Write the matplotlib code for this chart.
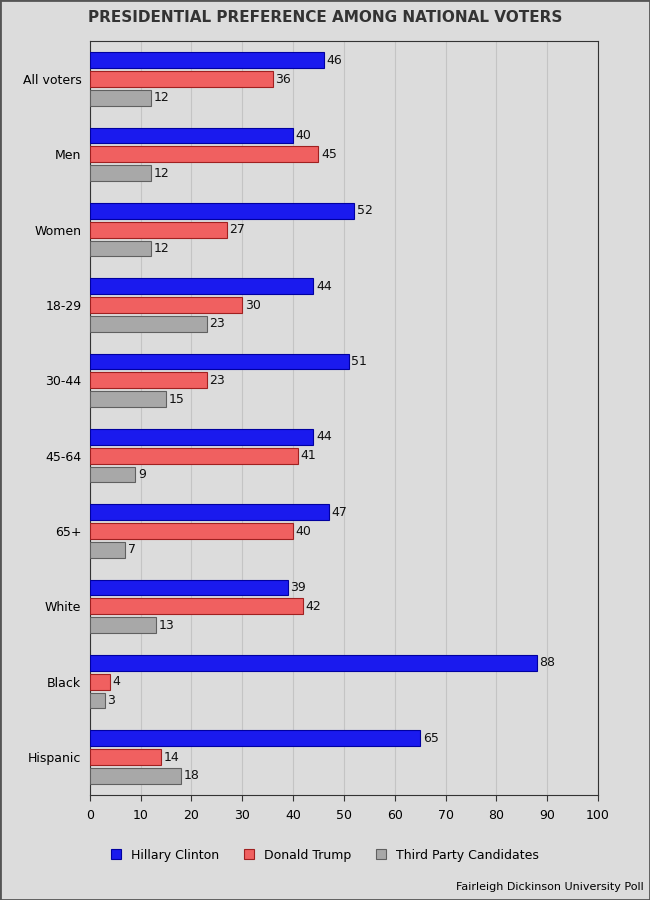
import numpy as np
import matplotlib.pyplot as plt

categories = ['All voters', 'Men', 'Women', '18-29', '30-44', '45-64', '65+', 'White', 'Black', 'Hispanic']
clinton = [46, 40, 52, 44, 51, 44, 47, 39, 88, 65]
trump = [36, 45, 27, 30, 23, 41, 40, 42, 4, 14]
third = [12, 12, 12, 23, 15, 9, 7, 13, 3, 18]

series = [('Hillary Clinton', clinton, '#1a1aee', '#0000a0'),
          ('Donald Trump', trump, '#f06060', '#a02020'),
          ('Third Party Candidates', third, '#a8a8a8', '#606060')]

bg = '#dcdcdc'
fig = plt.figure(figsize=(6.5, 9), dpi=100, facecolor=bg)
fig.patches.append(plt.Rectangle((0, 0), 1, 1, transform=fig.transFigure,
                                 fill=False, edgecolor='#555555', lw=2))
ax = fig.add_axes([0.138, 0.117, 0.782, 0.837], facecolor=bg)

y = np.arange(len(categories))
offs = [-0.25, 0, 0.25]
handles = []
for (name, vals, col, edge), off in zip(series, offs):
    h = ax.barh(y + off, vals, height=0.21, color=col, edgecolor=edge, lw=0.8, label=name, zorder=3)
    handles.append(h)
    for yi, v in zip(y + off, vals):
        ax.text(v + 0.5, yi, str(v), va='center', ha='left', fontsize=9, color='#111111', zorder=4)

ax.set_ylim(9.5, -0.5)
ax.set_xlim(0, 100)
ax.set_xticks(range(0, 101, 10))
ax.set_yticks(y)
ax.set_yticklabels(categories)
ax.tick_params(axis='both', labelsize=9, length=0, pad=6)
ax.tick_params(axis='x', length=4, color='#333333')
ax.grid(axis='x', color='#c4c4c4', lw=0.8, zorder=0)
for s in ax.spines.values():
    s.set_color('#333333')

fig.text(0.5, 0.98, 'PRESIDENTIAL PREFERENCE AMONG NATIONAL VOTERS', ha='center', va='center',
         fontsize=11, fontweight='bold', color='#333333')
fig.legend(handles=handles, loc='center', bbox_to_anchor=(0.5, 0.05), ncol=3, frameon=False,
           fontsize=9, handlelength=0.8, handleheight=0.8, columnspacing=2)
fig.text(0.99, 0.015, 'Fairleigh Dickinson University Poll', ha='right', va='center', fontsize=8)

fig.savefig('out.png', dpi=100, facecolor=bg)
